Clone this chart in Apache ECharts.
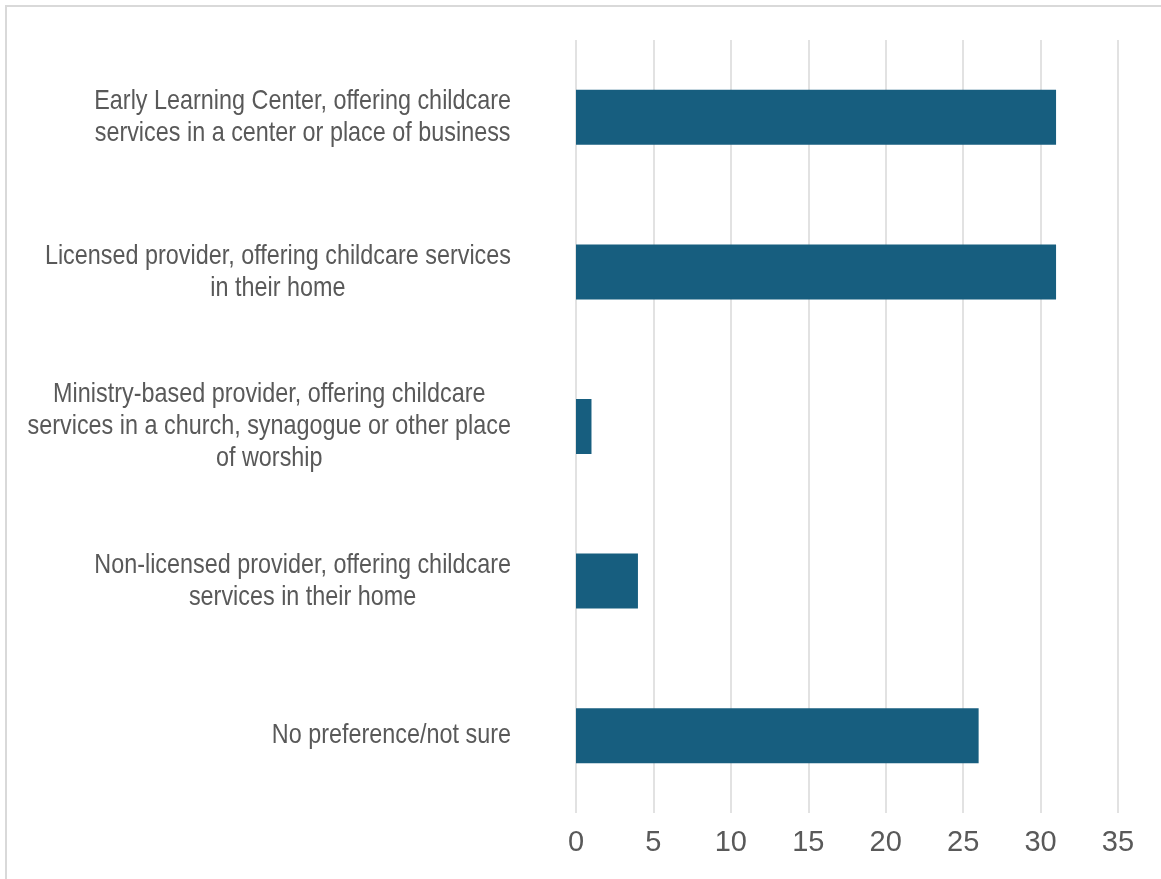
<!DOCTYPE html>
<html>
<head>
<meta charset="utf-8">
<script src="https://cdn.jsdelivr.net/npm/echarts@6/dist/echarts.min.js"></script>
<style>
  html, body { margin: 0; padding: 0; background: #ffffff; }
  #chart { width: 1161px; height: 879px; }
</style>
</head>
<body>
<div id="chart"></div>
<script>
// Preferred type of childcare provider (count of responses)
const categories = [
  'Early Learning Center, offering childcare\nservices in a center or place of business',
  'Licensed provider, offering childcare services\nin their home',
  'Ministry-based provider, offering childcare\nservices in a church, synagogue or other place\nof worship',
  'Non-licensed provider, offering childcare\nservices in their home',
  'No preference/not sure'
];
const responses = [31, 31, 1, 4, 26];
const tickValues = { min: 0, max: 35, interval: 5 };

const FONT = '"Liberation Sans", Arial, sans-serif';
const TEXT_COLOR = '#595959';
const GRID_COLOR = '#d9d9d9';
const BAR_COLOR = '#175e7f';
const LABEL_GAP = 65;        // space between category labels and the zero line
const NARROW = 0.835;        // horizontal squeeze for a narrow label face

const chart = echarts.init(document.getElementById('chart'), null, { renderer: 'canvas' });

const frame = {
  type: 'rect',
  shape: { x: 6, y: 6, width: 1300, height: 1000 },
  style: { fill: 'none', stroke: GRID_COLOR, lineWidth: 2 },
  silent: true
};

chart.setOption({
  animation: false,
  backgroundColor: '#ffffff',
  graphic: [frame],
  grid: { left: 576, right: 43, top: 40, bottom: 66, containLabel: false, outerBoundsMode: 'none' },
  xAxis: {
    type: 'value',
    min: tickValues.min,
    max: tickValues.max,
    interval: tickValues.interval,
    axisLine: { show: false },
    axisTick: { show: false },
    splitLine: { show: true, lineStyle: { color: GRID_COLOR, width: 1.5 } },
    axisLabel: {
      margin: 15,
      color: TEXT_COLOR,
      fontFamily: FONT,
      fontSize: 29
    }
  },
  yAxis: {
    type: 'category',
    inverse: true,
    data: categories,
    axisLine: { show: false },
    axisTick: { show: false },
    axisLabel: { show: false }
  },
  series: [{
    type: 'bar',
    data: responses,
    barWidth: 55,
    itemStyle: { color: BAR_COLOR }
  }]
});

// Category labels: right-aligned blocks with centred lines, placed on the axis bands
const anchorX = chart.convertToPixel({ xAxisIndex: 0 }, 0) - LABEL_GAP;
const labelTexts = categories.map(function (name) {
  const y = chart.convertToPixel({ yAxisIndex: 0 }, name);
  return {
    type: 'text',
    x: anchorX,
    y: y,
    scaleX: NARROW,
    silent: true,
    style: {
      text: name.split('\n').map(function (line) { return '{c|' + line + '}'; }).join('\n'),
      align: 'right',
      verticalAlign: 'middle',
      fill: TEXT_COLOR,
      fontFamily: FONT,
      fontSize: 28,
      rich: {
        c: {
          align: 'center',
          fill: TEXT_COLOR,
          fontFamily: FONT,
          fontSize: 28,
          lineHeight: 32
        }
      }
    }
  };
});

chart.setOption({ graphic: [frame].concat(labelTexts) }, { replaceMerge: ['graphic'] });
</script>
</body>
</html>
